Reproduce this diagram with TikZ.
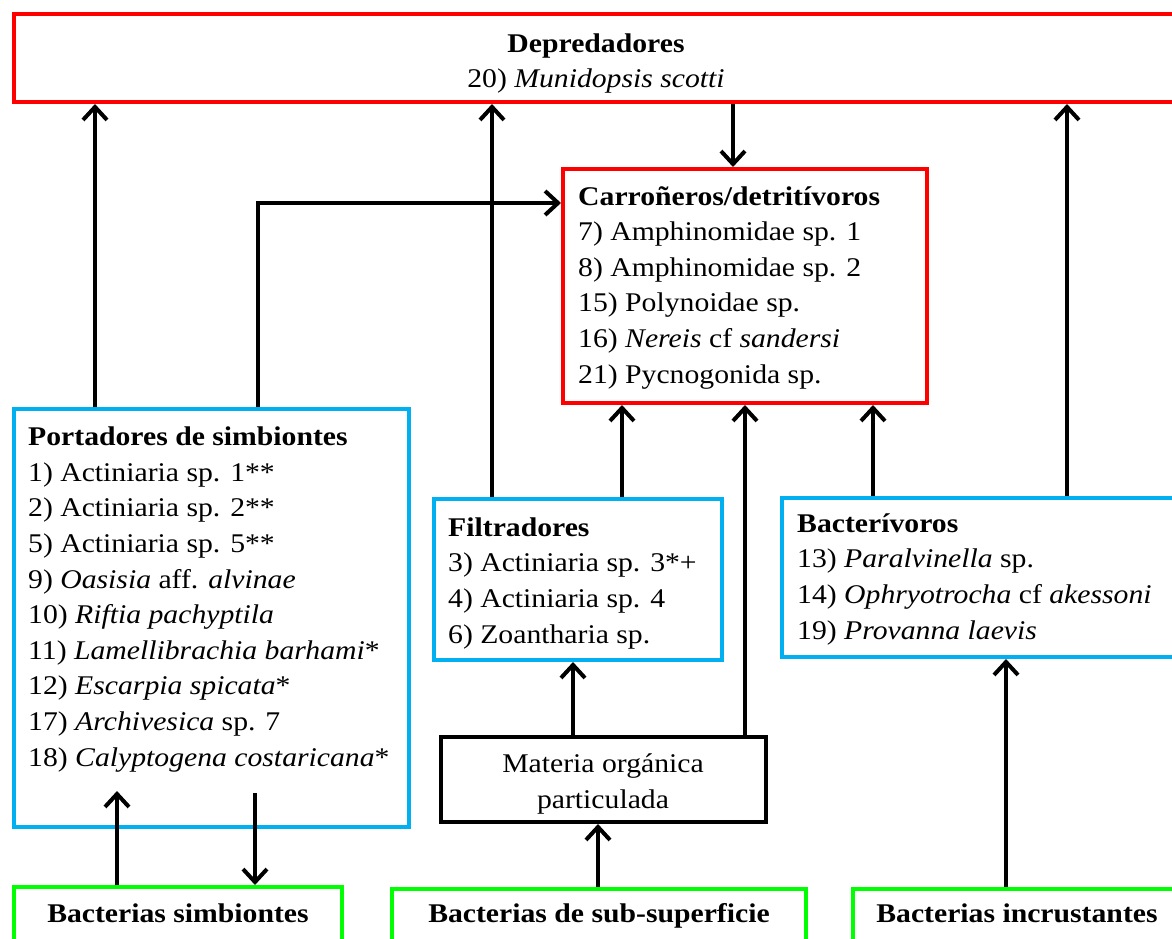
\documentclass[tikz,border=0pt]{standalone}
\usepackage{fontspec}
\setmainfont{Liberation Serif}[FakeStretch=1.1]
\usepackage{xcolor}
\definecolor{boxred}{RGB}{255,0,0}
\definecolor{boxblue}{RGB}{0,176,240}
\definecolor{boxgreen}{RGB}{0,255,0}
\usetikzlibrary{arrows.meta}
\usetikzlibrary{calc}
\newcommand{\textsize}{\fontsize{27}{35.6}\selectfont}
\tikzset{
    common/.style={draw, rectangle, anchor=north west, line width=4pt, inner sep=0pt},
    redbox/.style={common, draw=boxred},
    bluebox/.style={common, draw=boxblue},
    greenbox/.style={common, draw=boxgreen},
    blackbox/.style={common, draw=black},
    % multi-line texts are placed by the baseline of their last line
    listtext/.style={anchor=base west, align=left, inner sep=0pt, font=\textsize},
    centertext/.style={anchor=base, align=center, inner sep=0pt, font=\textsize},
    flow/.style={line width=4pt, -{Straight Barb[length=13pt, width=24pt]}}
}

\begin{document}
\begin{tikzpicture}[x=1pt, y=-1pt]
    \clip (0,0) rectangle (1172,939);
    % boxes
    \node[redbox, minimum width=1168, minimum height=88] (depred) at (12,12) {};
    \node[redbox, minimum width=364, minimum height=234] (carro) at (561,167) {};
    \node[bluebox, minimum width=395, minimum height=418] (portad) at (12,407) {};
    \node[bluebox, minimum width=288, minimum height=161] (filtr) at (432,497) {};
    \node[bluebox, minimum width=398, minimum height=159] (bactv) at (780,496) {};
    \node[blackbox, minimum width=325, minimum height=85] (mop) at (439,735) {};
    \node[greenbox, minimum width=328, minimum height=70] (simb) at (12,885) {};
    \node[greenbox, minimum width=414, minimum height=70] (subsup) at (390,887) {};
    \node[greenbox, minimum width=330, minimum height=70] (incrust) at (851,887) {};

    % texts
    \node[centertext] (depred-txt) at (596,88)
        {\textbf{Depredadores}\\20) \textit{Munidopsis scotti}};
    \node[listtext] (carro-txt) at (578,383)
        {\textbf{Carroñeros/detritívoros}\\
         7) Amphinomidae sp. 1\\
         8) Amphinomidae sp. 2\\
         15) Polynoidae sp.\\
         16) \textit{Nereis} cf \textit{sandersi}\\
         21) Pycnogonida sp.};
    \node[listtext] (portad-txt) at (28,766)
        {\textbf{Portadores de simbiontes}\\
         1) Actiniaria sp. 1**\\
         2) Actiniaria sp. 2**\\
         5) Actiniaria sp. 5**\\
         9) \textit{Oasisia} aff. \textit{alvinae}\\
         10) \textit{Riftia pachyptila}\\
         11) \textit{Lamellibrachia barhami}*\\
         12) \textit{Escarpia spicata}*\\
         17) \textit{Archivesica} sp. 7\\
         18) \textit{Calyptogena costaricana}*};
    \node[listtext] (filtr-txt) at (448,643)
        {\textbf{Filtradores}\\
         3) Actiniaria sp. 3*+\\
         4) Actiniaria sp. 4\\
         6) Zoantharia sp.};
    \node[listtext] (bactv-txt) at (797,639)
        {\textbf{Bacterívoros}\\
         13) \textit{Paralvinella} sp.\\
         14) \textit{Ophryotrocha} cf \textit{akessoni}\\
         19) \textit{Provanna laevis}};
    \node[centertext] (mop-txt) at (603,808) {Materia orgánica\\particulada};
    \node[centertext] (simb-txt) at (178,922) {\textbf{Bacterias simbiontes}};
    \node[centertext] (subsup-txt) at (599,922) {\textbf{Bacterias de sub-superficie}};
    \node[centertext] (incrust-txt) at (1017,922) {\textbf{Bacterias incrustantes}};

    % connectors
    \draw[flow] ($(portad.north west)+(83,0)$) coordinate (p1) -- (p1 |- depred.south);
    \draw[flow] ($(portad.north west)+(246,0)$) coordinate (p2) |- ($(carro.north west)+(0,36)$);
    \draw[flow] ($(filtr.north west)+(60,0)$) coordinate (f1) -- (f1 |- depred.south);
    \draw[flow] ($(filtr.north west)+(190,0)$) coordinate (f2) -- (f2 |- carro.south);
    \draw[flow] ($(depred.south west)+(721,0)$) coordinate (d1) -- (d1 |- carro.north);
    \draw[flow] ($(mop.north west)+(306,0)$) coordinate (m1) -- (m1 |- carro.south);
    \draw[flow] ($(mop.north west)+(134,0)$) coordinate (m2) -- (m2 |- filtr.south);
    \draw[flow] ($(bactv.north west)+(93,0)$) coordinate (b1) -- (b1 |- carro.south);
    \draw[flow] ($(bactv.north west)+(287,0)$) coordinate (b2) -- (b2 |- depred.south);
    \draw[flow] ($(incrust.north west)+(155,0)$) coordinate (i1) -- (i1 |- bactv.south);
    \draw[flow] ($(subsup.north west)+(208,0)$) coordinate (s1) -- (s1 |- mop.south);
    \coordinate (portad-in) at ($(portad.south west)+(0,-38)$);
    \coordinate (b-up) at ($(simb.north west)+(105,0)$);
    \coordinate (b-down) at ($(simb.north west)+(243,0)$);
    \draw[flow] (b-up) -- (b-up |- portad-in);
    \draw[flow] ($(b-down |- portad-in)+(0,2)$) -- (b-down);
\end{tikzpicture}
\end{document}
